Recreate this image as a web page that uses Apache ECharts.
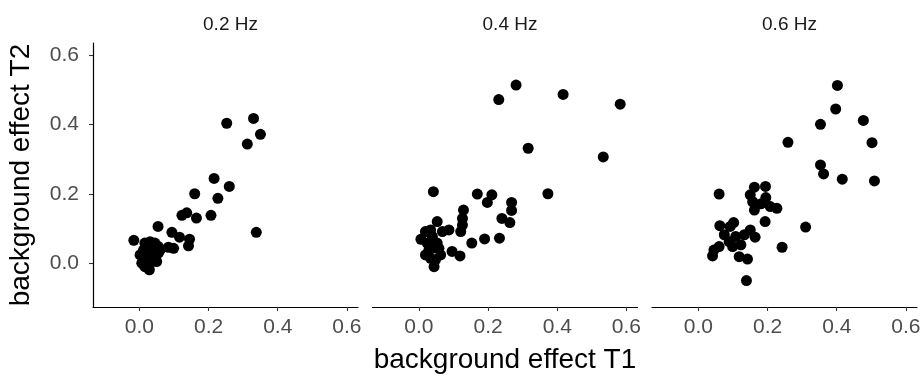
<!DOCTYPE html>
<html>
<head>
<meta charset="utf-8">
<script src="https://cdn.jsdelivr.net/npm/echarts@6/dist/echarts.min.js"></script>
<style>
  html, body { margin: 0; padding: 0; background: #fff; }
  #chart { width: 924px; height: 380px; }
</style>
</head>
<body>
<div id="chart"></div>
<script>
const panels = ['0.2 Hz', '0.4 Hz', '0.6 Hz'];
const ticks = [0, 0.2, 0.4, 0.6];

// [T1, T2] per panel
const hz02 = [
  [0.2525, 0.403], [0.33, 0.417], [0.350, 0.371], [0.312, 0.343], [0.216, 0.244],
  [0.260, 0.221], [0.160, 0.200], [0.227, 0.187], [0.123, 0.138], [0.137, 0.145],
  [0.165, 0.130], [0.207, 0.138], [0.338, 0.089], [0.054, 0.106], [-0.016, 0.066],
  [0.094, 0.089], [0.116, 0.075], [0.145, 0.069], [0.142, 0.050], [0.099, 0.043],
  [0.084, 0.046], [0.016, 0.058], [0.031, 0.062], [0.045, 0.058], [0.055, 0.048],
  [0.012, 0.038], [0.026, 0.034], [0.041, 0.034], [0.055, 0.029], [0.007, 0.000],
  [0.021, 0.010], [0.036, 0.005], [0.050, 0.005], [0.029, -0.019], [0.016, -0.010],
  [0.045, 0.019], [0.060, 0.038], [0.002, 0.024], [0.036, 0.048], [0.021, 0.048]
];
const hz04 = [
  [0.281, 0.513], [0.231, 0.471], [0.417, 0.486], [0.582, 0.458], [0.316, 0.331],
  [0.533, 0.306], [0.373, 0.200], [0.042, 0.206], [0.169, 0.199], [0.211, 0.197],
  [0.198, 0.175], [0.268, 0.175], [0.268, 0.152], [0.129, 0.153], [0.126, 0.129],
  [0.240, 0.129], [0.263, 0.117], [0.126, 0.110], [0.121, 0.091], [0.087, 0.096],
  [0.053, 0.120], [0.019, 0.091], [0.006, 0.069], [0.153, 0.058], [0.190, 0.070],
  [0.233, 0.072], [0.096, 0.034], [0.119, 0.021], [0.039, 0.077], [0.053, 0.058],
  [0.024, 0.058], [0.039, 0.043], [0.063, 0.024], [0.019, 0.024], [0.034, 0.014],
  [0.048, 0.010], [0.044, -0.010], [0.029, 0.038], [0.058, 0.043], [0.068, 0.091],
  [0.034, 0.096]
];
const hz06 = [
  [0.402, 0.512], [0.397, 0.444], [0.353, 0.400], [0.477, 0.411], [0.502, 0.347],
  [0.259, 0.348], [0.353, 0.283], [0.362, 0.257], [0.416, 0.242], [0.509, 0.237],
  [0.310, 0.104], [0.060, 0.199], [0.242, 0.046], [0.139, -0.050], [0.162, 0.219],
  [0.194, 0.221], [0.150, 0.197], [0.195, 0.189], [0.157, 0.177], [0.181, 0.171],
  [0.208, 0.163], [0.227, 0.158], [0.162, 0.153], [0.193, 0.120], [0.062, 0.108],
  [0.102, 0.117], [0.092, 0.106], [0.075, 0.082], [0.089, 0.062], [0.108, 0.077],
  [0.123, 0.053], [0.150, 0.096], [0.164, 0.075], [0.133, 0.082], [0.045, 0.038],
  [0.041, 0.021], [0.060, 0.048], [0.118, 0.019], [0.142, 0.012], [0.099, 0.048]
];
const panelData = [hz02, hz04, hz06];

const FONT = 'Liberation Sans';
const lefts = [93, 372.5, 652];
const W = 265, TOP = 43, H = 264;

const chart = echarts.init(document.getElementById('chart'));

const option = {
  animation: false,
  backgroundColor: '#fff',
  textStyle: { fontFamily: FONT },
  title: panels.map((p, i) => ({
    text: p,
    left: lefts[i] + W / 2,
    top: 10,
    textAlign: 'center',
    textStyle: { fontFamily: FONT, fontSize: 19, fontWeight: 'normal', color: '#1a1a1a' }
  })),
  grid: lefts.map(l => ({ left: l, top: TOP, width: W, height: H })),
  xAxis: lefts.map((l, i) => ({
    type: 'value',
    gridIndex: i,
    min: -0.134,
    max: 0.632,
    name: i === 1 ? 'background effect T1' : '',
    nameLocation: 'middle',
    nameGap: 39,
    nameTextStyle: { fontFamily: FONT, fontSize: 28, color: '#000' },
    splitLine: { show: false },
    axisLine: { show: true, onZero: false, lineStyle: { color: '#000', width: 1.2 } },
    axisTick: { show: true, length: 4, customValues: ticks, lineStyle: { color: '#333', width: 1.1 } },
    axisLabel: {
      customValues: ticks,
      formatter: v => v.toFixed(1),
      fontFamily: FONT, fontSize: 21, color: '#4d4d4d', margin: 10
    }
  })),
  yAxis: lefts.map((l, i) => ({
    type: 'value',
    gridIndex: i,
    min: -0.126,
    max: 0.634,
    show: i === 0,
    name: i === 0 ? 'background effect T2' : '',
    nameLocation: 'middle',
    nameGap: 58,
    nameTextStyle: { fontFamily: FONT, fontSize: 28, color: '#000' },
    splitLine: { show: false },
    axisLine: { show: true, onZero: false, lineStyle: { color: '#000', width: 1.2 } },
    axisTick: { show: true, length: 4, customValues: ticks, lineStyle: { color: '#333', width: 1.1 } },
    axisLabel: {
      customValues: ticks,
      formatter: v => v.toFixed(1),
      fontFamily: FONT, fontSize: 21, color: '#4d4d4d', margin: 14
    }
  })),
  series: panelData.map((d, i) => ({
    type: 'scatter',
    xAxisIndex: i,
    yAxisIndex: i,
    data: d,
    symbol: 'circle',
    symbolSize: 11,
    itemStyle: { color: '#000', opacity: 1 }
  }))
};

chart.setOption(option);
</script>
</body>
</html>
